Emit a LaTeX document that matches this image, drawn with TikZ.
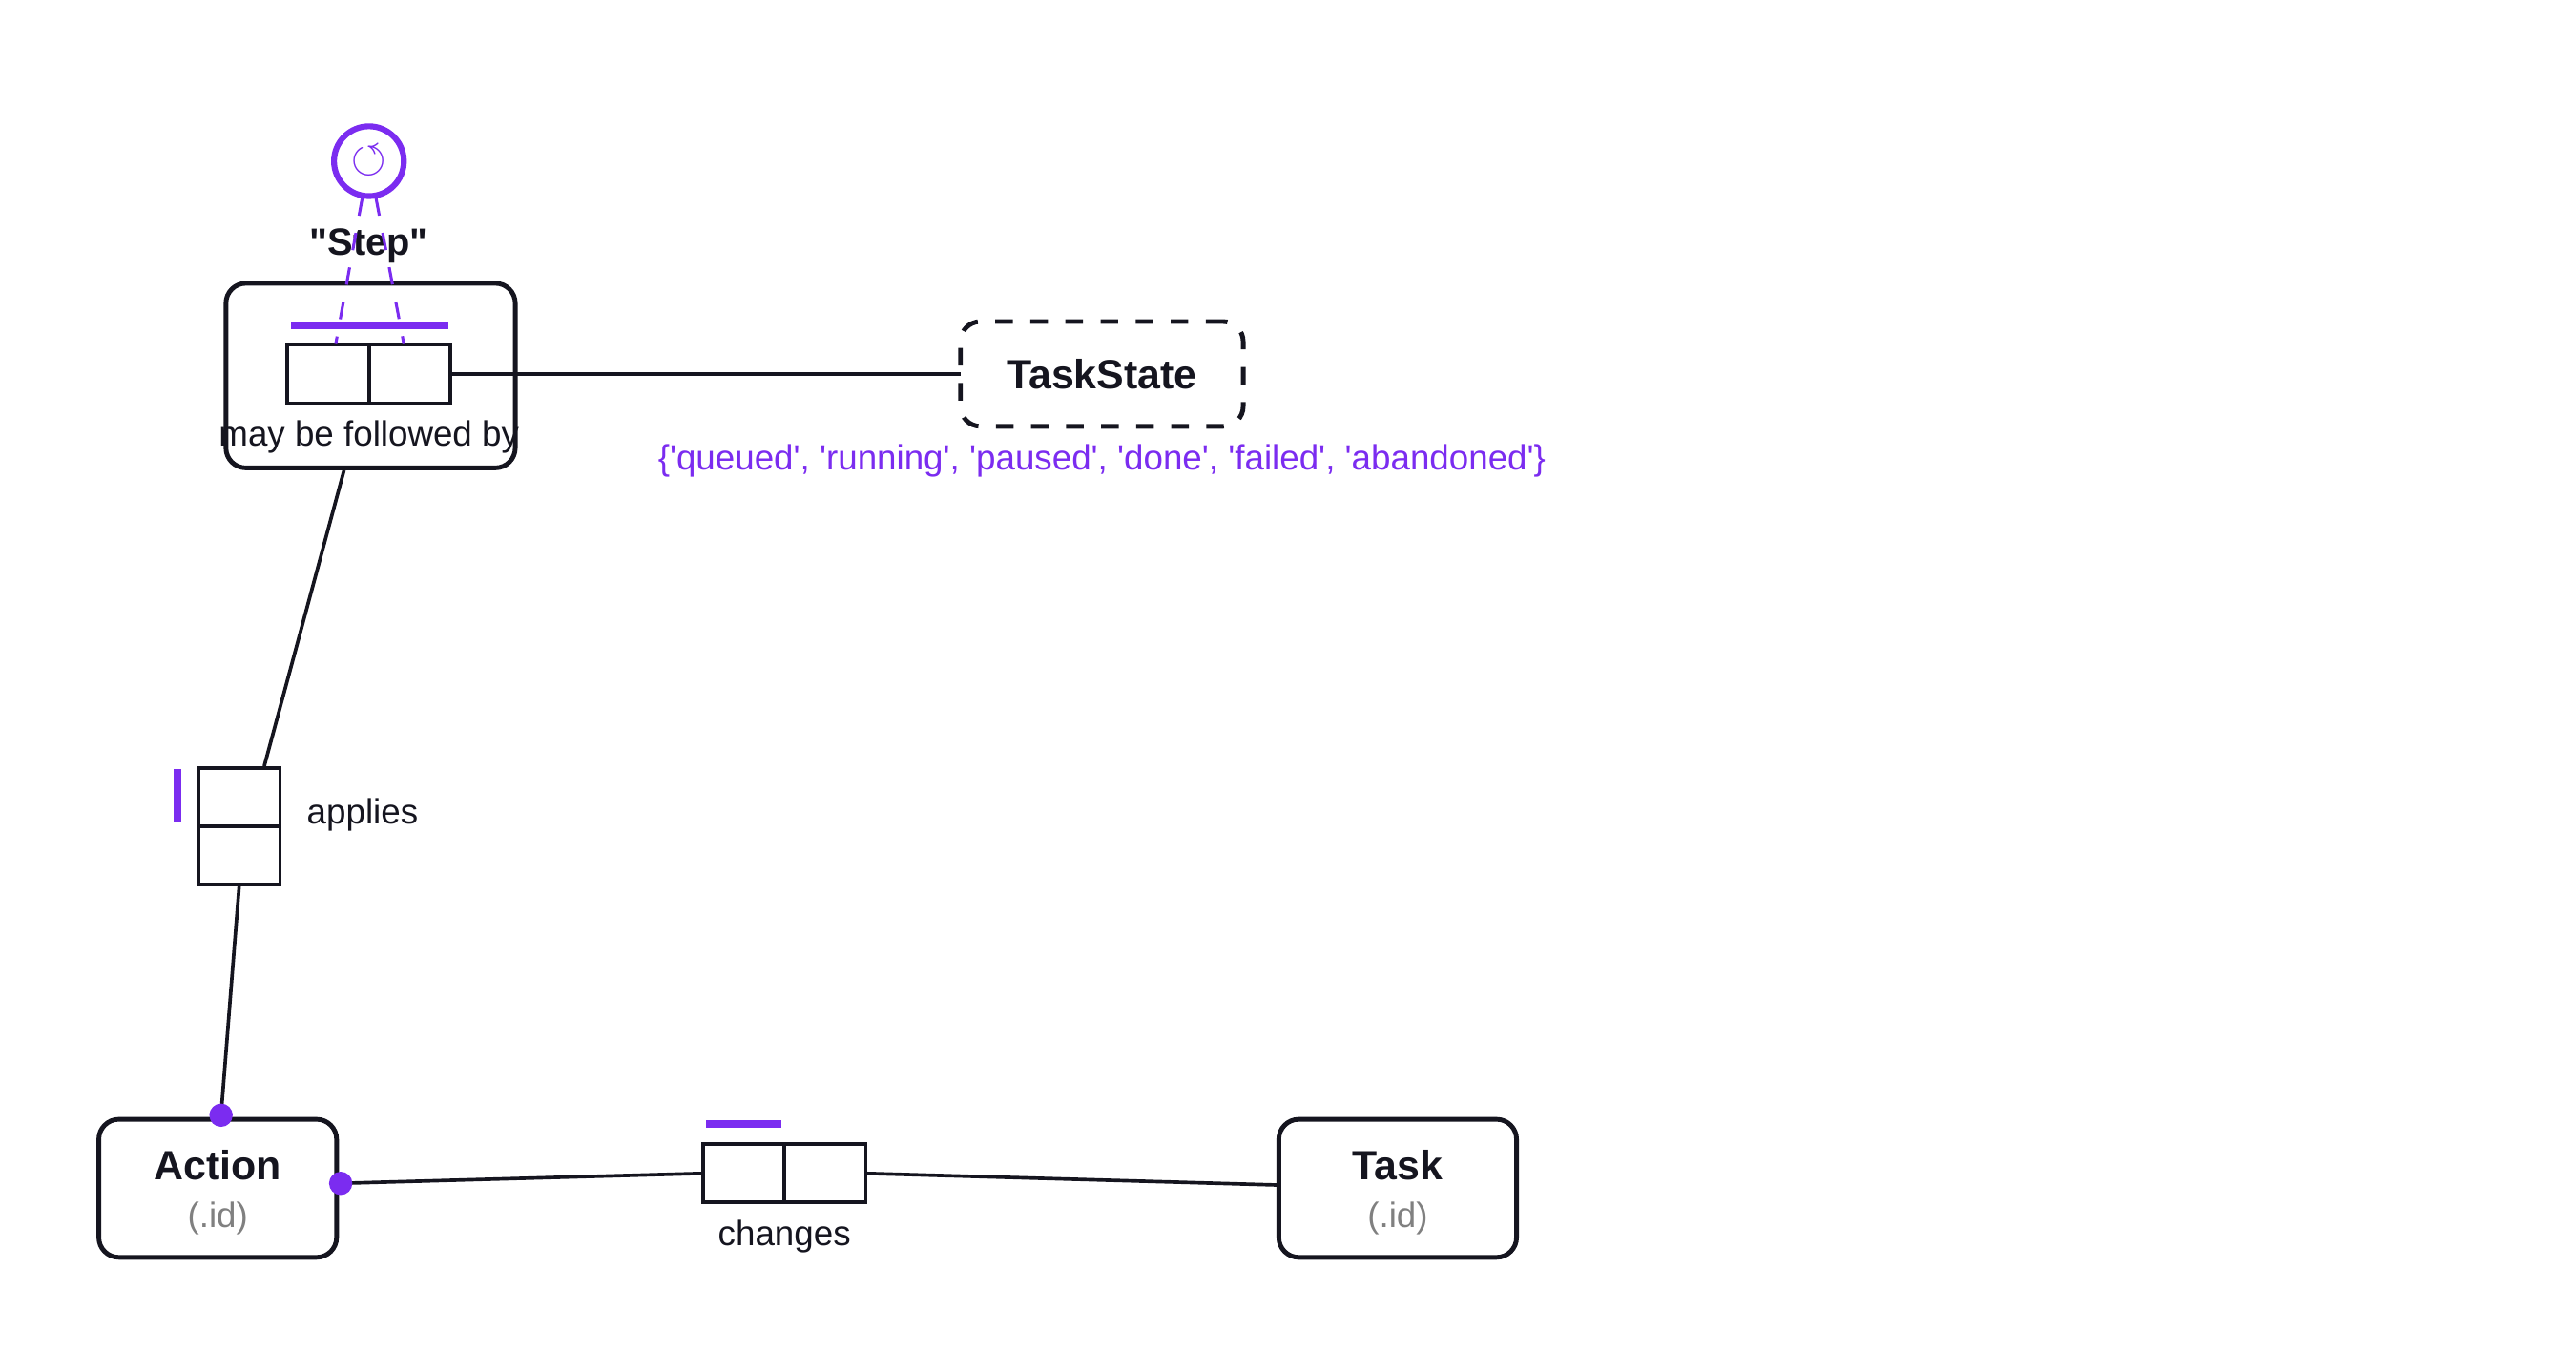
\documentclass[tikz,border=0pt]{standalone}
\usepackage{amssymb}
\usepackage{fontspec}
\setmainfont{Liberation Sans}
\usetikzlibrary{positioning}
\definecolor{vio}{HTML}{7B2CF0}
\definecolor{ink}{HTML}{15151F}
\tikzset{ent/.append style={draw=ink,line width=0.8pt,rounded corners=0.12cm,minimum width=1.43cm,minimum height=0.83cm,outer sep=0pt}}
\tikzset{role/.append style={draw=ink,line width=0.6pt,minimum width=0.49cm,minimum height=0.35cm,inner sep=0pt,outer sep=0pt}}
\tikzset{lbl/.append style={font=\fontsize{6}{7}\selectfont,text=ink,inner sep=0pt}}
\tikzset{bar/.append style={draw=vio,line width=1.3pt}}
\tikzset{ln/.append style={draw=ink,line width=0.6pt}}
\newcommand{\q}{\textquotesingle}

\begin{document}
\begin{tikzpicture}[x=0.01cm,y=-0.01cm]
                \useasboundingbox (0,0) rectangle (1550,813);
                % entities
                \node[ent,minimum width=1.74cm,minimum height=1.11cm] (step) at (223,226) {};
                \node[ent,dashed,minimum width=1.7cm,minimum height=0.63cm] (ts) at (663,225) {};
                \node[lbl,font=\fontsize{7}{8}\selectfont\bfseries] (tsname) at (663,225) {TaskState};
                \node[ent] (act) at (131,715) {};
                \node[ent] (task) at (841,715) {};
                \node[lbl,font=\fontsize{7}{8}\selectfont\bfseries] (actname) at (131,701) {Action};
                \node[lbl,text=gray] (actid) at (131,733) {(.id)};
                \node[lbl,font=\fontsize{7}{8}\selectfont\bfseries] (taskname) at (841,701) {Task};
                \node[lbl,text=gray] (taskid) at (841,733) {(.id)};
                % step fact
                \node[role,anchor=east] (s1) at (222,225) {};
                \node[role,anchor=west] (s2) at (222,225) {};
                \node[lbl] (mbf) at (222,263) {may be followed by};
                \node[lbl,font=\fontsize{6.5}{7}\selectfont\bfseries] (stepname) at (222,148) {\textquotedbl Step\textquotedbl};
                \node[draw=vio,line width=1pt,circle,minimum size=0.42cm,inner sep=0pt,text=vio,font=\fontsize{7}{8}\selectfont] (ring) at (222,97) {$\circlearrowleft$};
                \draw[bar] (175,196) -- (270,196);
                \coordinate (r1) at (202,207);
                \coordinate (r2) at (243,207);
                \draw[vio,dashed,line width=0.5pt] (ring) -- (r1) (ring) -- (r2);
                \node[lbl,text=vio] (vals) at (663,277) {\{\q queued\q, \q running\q, \q paused\q, \q done\q, \q failed\q, \q abandoned\q\}};
                % applies fact
                \node[role,anchor=south] (a1) at (144,497) {};
                \node[role,anchor=north] (a2) at (144,497) {};
                \draw[bar] (107,463) -- (107,495);
                \node[lbl,anchor=west] (appl) at (184,490) {applies};
                % changes fact
                \node[role,anchor=east] (c1) at (472,706) {};
                \node[role,anchor=west] (c2) at (472,706) {};
                \draw[bar] (425,676) -- (470,676);
                \node[lbl] (chg) at (472,744) {changes};
                % connectors
                \coordinate (stepbot) at (207,283);
                \coordinate (atop) at (159,461);
                \coordinate (acttop) at (133,671);
                \coordinate (actright) at (205,712);
                \coordinate (taskleft) at (768,713);
                \path[ln] (s2.east) -- (ts.west);
                \path[ln] (stepbot) -- (atop);
                \path[ln] (a2.south) -- (acttop);
                \path[ln] (actright) -- (c1.west);
                \path[ln] (c2.east) -- (taskleft);
                \fill[vio] (acttop) circle (0.07cm) (actright) circle (0.07cm);
\end{tikzpicture}
\end{document}
